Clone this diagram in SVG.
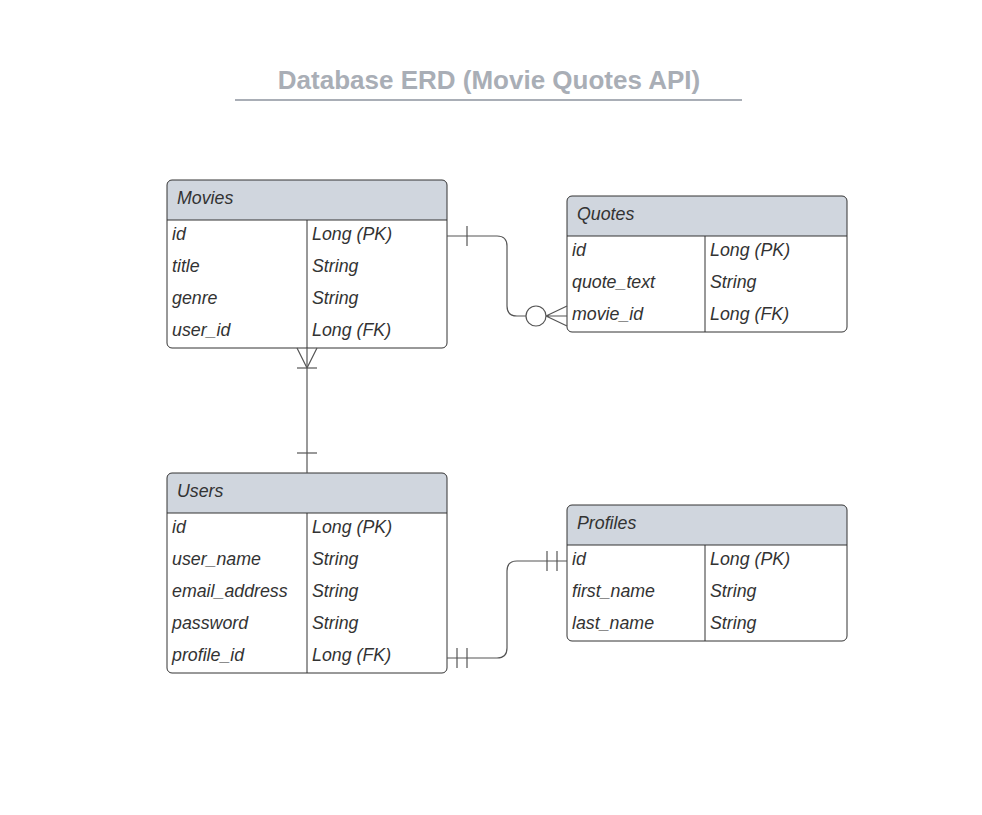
<svg xmlns="http://www.w3.org/2000/svg" width="982" height="815" viewBox="0 0 982 815">
<style>
.bg{fill:#ffffff}
.box{fill:#ffffff;stroke:none}
.outline{fill:none;stroke:#333333;stroke-width:1}
.hdr{fill:#d0d6de;stroke:none}
.ln{stroke:#333333;stroke-width:1;fill:none}
.t{font-family:"Liberation Sans",Arial,sans-serif;font-style:italic;font-size:17.8px;fill:#333333}
.title{font-family:"Liberation Sans",Arial,sans-serif;font-weight:bold;font-size:26px;fill:#a9aeb6}
.cn{stroke:#555555;stroke-width:1.2;fill:none}
</style>
<rect class="bg" x="0" y="0" width="982" height="815"/>
<g id="title">
<text class="title" x="489" y="89" text-anchor="middle">Database ERD (Movie Quotes API)</text>
<line x1="235" y1="100" x2="742" y2="100" stroke="#a9aeb6" stroke-width="2"/>
</g>
<g id="movies">
<rect class="box" x="167" y="180" width="280" height="168" rx="5"/>
<path class="hdr" d="M172,180 H442 A5,5 0 0 1 447,185 V220 H167 V185 A5,5 0 0 1 172,180 Z"/>
<rect class="outline" x="167" y="180" width="280" height="168" rx="5"/>
<line class="ln" x1="167" y1="220" x2="447" y2="220"/>
<line class="ln" x1="307" y1="220" x2="307" y2="348"/>
<text class="t" x="177" y="204">Movies</text>
<text class="t" x="172" y="240">id</text><text class="t" x="312" y="240">Long (PK)</text>
<text class="t" x="172" y="272">title</text><text class="t" x="312" y="272">String</text>
<text class="t" x="172" y="304">genre</text><text class="t" x="312" y="304">String</text>
<text class="t" x="172" y="336">user_id</text><text class="t" x="312" y="336">Long (FK)</text>
</g>
<g id="quotes">
<rect class="box" x="567" y="196" width="280" height="136" rx="5"/>
<path class="hdr" d="M572,196 H842 A5,5 0 0 1 847,201 V236 H567 V201 A5,5 0 0 1 572,196 Z"/>
<rect class="outline" x="567" y="196" width="280" height="136" rx="5"/>
<line class="ln" x1="567" y1="236" x2="847" y2="236"/>
<line class="ln" x1="705" y1="236" x2="705" y2="332"/>
<text class="t" x="577" y="220">Quotes</text>
<text class="t" x="572" y="256">id</text><text class="t" x="710" y="256">Long (PK)</text>
<text class="t" x="572" y="288">quote_text</text><text class="t" x="710" y="288">String</text>
<text class="t" x="572" y="320">movie_id</text><text class="t" x="710" y="320">Long (FK)</text>
</g>
<g id="users">
<rect class="box" x="167" y="473" width="280" height="200" rx="5"/>
<path class="hdr" d="M172,473 H442 A5,5 0 0 1 447,478 V513 H167 V478 A5,5 0 0 1 172,473 Z"/>
<rect class="outline" x="167" y="473" width="280" height="200" rx="5"/>
<line class="ln" x1="167" y1="513" x2="447" y2="513"/>
<line class="ln" x1="307" y1="513" x2="307" y2="673"/>
<text class="t" x="177" y="497">Users</text>
<text class="t" x="172" y="533">id</text><text class="t" x="312" y="533">Long (PK)</text>
<text class="t" x="172" y="565">user_name</text><text class="t" x="312" y="565">String</text>
<text class="t" x="172" y="597">email_address</text><text class="t" x="312" y="597">String</text>
<text class="t" x="172" y="629">password</text><text class="t" x="312" y="629">String</text>
<text class="t" x="172" y="661">profile_id</text><text class="t" x="312" y="661">Long (FK)</text>
</g>
<g id="profiles">
<rect class="box" x="567" y="505" width="280" height="136" rx="5"/>
<path class="hdr" d="M572,505 H842 A5,5 0 0 1 847,510 V545 H567 V510 A5,5 0 0 1 572,505 Z"/>
<rect class="outline" x="567" y="505" width="280" height="136" rx="5"/>
<line class="ln" x1="567" y1="545" x2="847" y2="545"/>
<line class="ln" x1="705" y1="545" x2="705" y2="641"/>
<text class="t" x="577" y="529">Profiles</text>
<text class="t" x="572" y="565">id</text><text class="t" x="710" y="565">Long (PK)</text>
<text class="t" x="572" y="597">first_name</text><text class="t" x="710" y="597">String</text>
<text class="t" x="572" y="629">last_name</text><text class="t" x="710" y="629">String</text>
</g>
<g id="connectors">
<g id="movies-quotes">
<path class="cn" d="M447,236 H497 Q507,236 507,246 V306 Q507,316 517,316 H526"/>
<line class="cn" x1="467" y1="226" x2="467" y2="246"/>
<circle class="cn" cx="536" cy="316" r="10" fill="#ffffff"/>
<path class="cn" d="M546,316 L567,306 M546,316 L567,316 M546,316 L567,326"/>
</g>
<g id="movies-users">
<line class="cn" x1="307" y1="348" x2="307" y2="473"/>
<path class="cn" d="M307,368 L297,348 M307,368 L317,348"/>
<line class="cn" x1="297" y1="368" x2="317" y2="368"/>
<line class="cn" x1="297" y1="453" x2="317" y2="453"/>
</g>
<g id="users-profiles">
<path class="cn" d="M447,658 H497 Q507,658 507,648 V571 Q507,561 517,561 H567"/>
<line class="cn" x1="457" y1="648" x2="457" y2="668"/>
<line class="cn" x1="467" y1="648" x2="467" y2="668"/>
<line class="cn" x1="547" y1="551" x2="547" y2="571"/>
<line class="cn" x1="557" y1="551" x2="557" y2="571"/>
</g>
</g>
</svg>
